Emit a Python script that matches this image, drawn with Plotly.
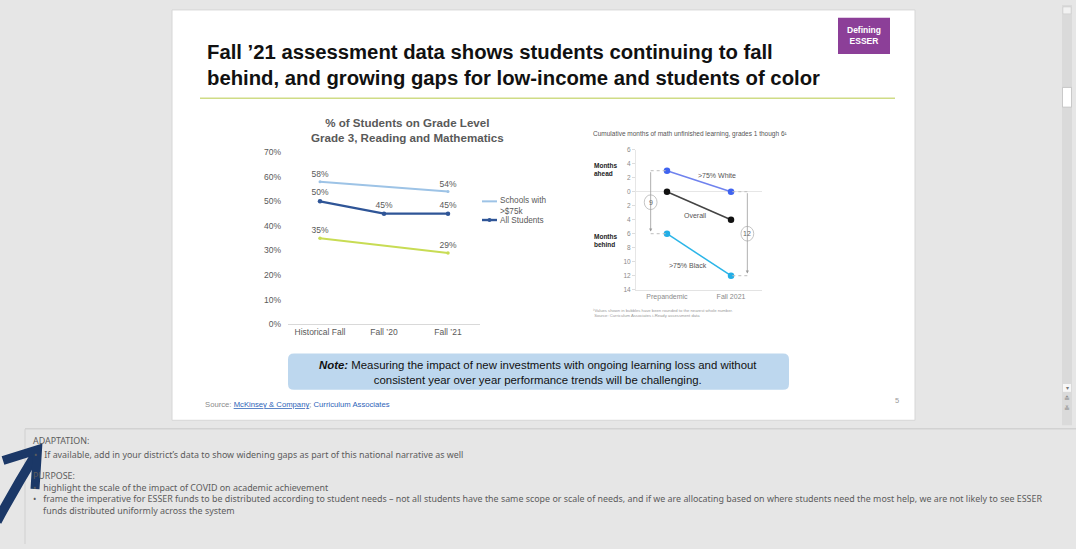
import plotly.graph_objects as go

W, H = 1076, 549


def px(x):
    return x / W


def py(y):
    return 1 - y / H


# ---------------- data ----------------
grade_categories = ["Historical Fall", "Fall ’20", "Fall ’21"]
high_income_pct = [58, None, 54]
all_students_pct = [50, 45, 45]
low_income_pct = [35, None, 29]
left_series_names = ["Schools with >$75k", "All Students", "Low-income schools"]
left_yticks = [0, 10, 20, 30, 40, 50, 60, 70]

periods = ["Prepandemic", "Fall 2021"]
white_months = [3, 0]
overall_months = [0, -4]
black_months = [-6, -12]
right_series_names = [">75% White", "Overall", ">75% Black"]
right_yticks = [6, 4, 2, 0, -2, -4, -6, -8, -10, -12, -14]

# ---------------- styles ----------------
BG = "#e6e6e6"
NARROW = "Liberation Sans, Arial, sans-serif"
SANS = "Liberation Sans, Arial, sans-serif"
NOTE_FONT = "Noto Sans, Open Sans, sans-serif"
C_LIGHT = "#9dc3e6"
C_DARK = "#2f5597"
C_GREEN = "#c8dc54"
C_WHITE = "#3f63f0"
C_OVERALL = "#111111"
C_BLACK = "#22aee6"

fig = go.Figure()


def lbl(values):
    return [f"{v}%" if v is not None else "" for v in values]


left_data = [high_income_pct, all_students_pct, low_income_pct]
left_colors = [C_LIGHT, C_DARK, C_GREEN]
left_widths = [2, 2.4, 2]
left_msize = [3, 4.5, 3.5]
for vals, name, col, w, ms in zip(left_data, left_series_names, left_colors, left_widths, left_msize):
    fig.add_trace(go.Scatter(
        x=grade_categories, y=vals, name=name, mode="lines+markers+text",
        connectgaps=True, line=dict(color=col, width=w),
        marker=dict(color=col, size=ms), text=lbl(vals),
        textposition="top center",
        textfont=dict(family=NARROW, size=8.5, color="#595959"),
        xaxis="x", yaxis="y", showlegend=False, cliponaxis=False,
    ))

right_data = [white_months, overall_months, black_months]
right_line_cols = ["#6f82ee", "#444444", "#2bb5e8"]
right_mark_cols = [C_WHITE, C_OVERALL, C_BLACK]
for vals, name, lc, mc in zip(right_data, right_series_names, right_line_cols, right_mark_cols):
    fig.add_trace(go.Scatter(
        x=[0, 1], y=vals, name=name, mode="lines+markers",
        line=dict(color=lc, width=1.5), marker=dict(color=mc, size=6.5),
        xaxis="x2", yaxis="y2", showlegend=False, cliponaxis=False,
    ))

fig.update_layout(
    width=W, height=H, margin=dict(l=0, r=0, t=0, b=0),
    paper_bgcolor=BG, plot_bgcolor="rgba(0,0,0,0)", showlegend=False,
    xaxis=dict(domain=[px(288), px(480)], type="category", range=[-0.5, 2.5],
               showline=True, linecolor="#d9d9d9", linewidth=1, ticks="",
               showgrid=False, zeroline=False, anchor="y",
               tickfont=dict(family=NARROW, size=8.5, color="#595959")),
    yaxis=dict(domain=[py(325), py(150)], range=[0, 70], tickvals=left_yticks,
               ticktext=[f"{v}%" for v in left_yticks], showgrid=False,
               zeroline=False, showline=False, anchor="x", ticklabelstandoff=6,
               tickfont=dict(family=NARROW, size=8.5, color="#595959")),
    xaxis2=dict(domain=[px(636), px(762)], range=[-0.484, 1.484], tickvals=[0, 1],
                ticktext=periods, showline=True, linecolor="#e3e3e3", ticks="",
                showgrid=False, zeroline=False, anchor="y2",
                tickfont=dict(family=SANS, size=7, color="#8a8a8a")),
    yaxis2=dict(domain=[py(290), py(147.4)], range=[-14, 6], tickvals=right_yticks,
                ticktext=[str(abs(v)) for v in right_yticks], showgrid=False,
                zeroline=True, zerolinecolor="#e6e6e6", zerolinewidth=1,
                showline=True, linecolor="#e6e6e6", ticks="outside", ticklen=3,
                tickcolor="#dddddd", anchor="x2",
                tickfont=dict(family=SANS, size=6.5, color="#8a8a8a")),
)

shapes = []
annos = []


def rect(x0, y0, x1, y1, fill, line=None, lw=0, layer="below"):
    shapes.append(dict(type="rect", xref="paper", yref="paper", x0=px(x0), x1=px(x1),
                       y0=py(y1), y1=py(y0), fillcolor=fill,
                       line=dict(color=line or fill, width=lw), layer=layer))


def text(x, y, s, size, color="#595959", family=NARROW, anchor="left", weight="normal", align=None):
    annos.append(dict(xref="paper", yref="paper", x=px(x), y=py(y), text=s, showarrow=False,
                      xanchor=anchor, yanchor="middle", align=align or anchor, borderpad=0,
                      font=dict(size=size, color=color, family=family, weight=weight)))


def pline(x0, y0, x1, y1, color, width=1, dash="solid", layer="below"):
    shapes.append(dict(type="line", xref="paper", yref="paper", x0=px(x0), y0=py(y0),
                       x1=px(x1), y1=py(y1), line=dict(color=color, width=width, dash=dash),
                       layer=layer))


# slide
rect(172, 5, 915, 423, "#ffffff", line="#d6d6d6", lw=1)
# title
text(206, 61, "Fall ’21 assessment data shows students continuing to fall<br>"
     "behind, and growing gaps for low-income and students of color", 20.3, "#111111", weight="bold")
pline(200, 95, 895, 95, "#cfdc86", 1.5)
# badge
rect(838, 13, 890, 50, "#8c3f98")
text(864, 31.5, "Defining<br>ESSER", 8.5, "#ffffff", anchor="center", weight="bold")

# left chart title
text(407, 127.5, "% of Students on Grade Level<br>Grade 3, Reading and Mathematics", 11.6, "#595959",
     anchor="center", weight="bold")
# manual legend
pline(482, 200, 497, 200, C_LIGHT, 2)
text(499, 204.5, "Schools with<br>>$75k", 8.2, "#595959")
pline(482, 219, 497, 219, C_DARK, 2.4)
shapes.append(dict(type="circle", xref="paper", yref="paper", x0=px(487.5), x1=px(491.5),
                   y0=py(221), y1=py(217), fillcolor=C_DARK, line=dict(width=0)))
text(499, 219.5, left_series_names[1], 8.2, "#595959")

# right chart texts
text(592, 131, "Cumulative months of math unfinished learning, grades 1 though 6¹", 6.5, "#555555", family=SANS)
text(593, 168, "Months<br>ahead", 6.5, "#222222", family=SANS, weight="bold")
text(593, 240, "Months<br>behind", 6.5, "#222222", family=SANS, weight="bold")
text(592, 314, "¹Values shown in bubbles have been rounded to the nearest whole number.<br>"
     " Source: Curriculum Associates i-Ready assessment data", 4.2, "#9a9a9a", family=SANS)

# series labels on right chart (data coords)
label_pos = [(0.78, 2.3), (0.44, -3.4), (0.33, -10.6)]
for (lx, ly), name in zip(label_pos, right_series_names):
    annos.append(dict(xref="x2", yref="y2", x=lx, y=ly, text=name, showarrow=False,
                      font=dict(size=7, color="#555555", family=SANS)))

# gap brackets
gaps = [(0, -0.255, white_months[0], black_months[0]), (1, 1.255, white_months[1], black_months[1])]
for idx, bx, top, bot in gaps:
    gap = top - bot
    shapes.append(dict(type="line", xref="x2", yref="y2", x0=bx, x1=idx, y0=top, y1=top,
                       line=dict(color="#bdbdbd", width=1, dash="dot")))
    shapes.append(dict(type="line", xref="x2", yref="y2", x0=bx, x1=idx, y0=bot, y1=bot,
                       line=dict(color="#bdbdbd", width=1, dash="dot")))
    annos.append(dict(xref="x2", yref="y2", x=bx, y=bot + 0.3, ax=bx, ay=top, axref="x2", ayref="y2",
                      text="", showarrow=True, arrowhead=2, arrowsize=0.8, arrowwidth=0.8,
                      arrowcolor="#9a9a9a", standoff=0, startstandoff=0))
    mid = (top + bot) / 2
    shapes.append(dict(type="circle", xref="x2", yref="y2", x0=bx - 0.1, x1=bx + 0.1,
                       y0=mid - 1.05, y1=mid + 1.05, fillcolor="#ffffff",
                       line=dict(color="#b5b5b5", width=0.8), layer="above"))
    annos.append(dict(xref="x2", yref="y2", x=bx, y=mid, text=str(gap), showarrow=False,
                      font=dict(size=7, color="#666666", family=SANS)))

# note box (rounded)
x0, x1, y0, y1, r = 288, 789, 355, 392, 6
path = (f"M {px(x0 + r)},{py(y0)} L {px(x1 - r)},{py(y0)} Q {px(x1)},{py(y0)} {px(x1)},{py(y0 + r)} "
        f"L {px(x1)},{py(y1 - r)} Q {px(x1)},{py(y1)} {px(x1 - r)},{py(y1)} "
        f"L {px(x0 + r)},{py(y1)} Q {px(x0)},{py(y1)} {px(x0)},{py(y1 - r)} "
        f"L {px(x0)},{py(y0 + r)} Q {px(x0)},{py(y0)} {px(x0 + r)},{py(y0)} Z")
shapes.append(dict(type="path", xref="paper", yref="paper", path=path, fillcolor="#bdd7ee",
                   line=dict(width=0), layer="below"))
text(538, 374, "<b><i>Note:</i></b> Measuring the impact of new investments with ongoing learning loss and without<br>"
     "consistent year over year performance trends will be challenging.", 11.4, "#111111", anchor="center")

# source and page number
text(204, 406.5, "Source: <span style='color:#2e63b8'><u>McKinsey &amp; Company</u></span>; "
     "<span style='color:#2e63b8'>Curriculum Associates</span>", 7.7, "#8a8a8a")
text(897, 403, "5", 7.5, "#9a9a9a", family=SANS, anchor="center")

# notes pane
pline(25, 431.5, 1076, 431.5, "#d2d2d2", 1.5)
pline(25, 432, 25, 549, "#d0d0d0", 1)
NC = "#5c5c5c"
NS = 8.9
SP = "&nbsp;"
text(32, 444, "ADAPTATION:", NS, NC, family=NOTE_FONT)
text(33, 458, "•" + SP * 3 + "If available, add in your district’s data to show widening gaps as part of "
     "this national narrative as well", NS, NC, family=NOTE_FONT)
text(32, 497,
     "PURPOSE:<br>"
     "•" + SP * 3 + "highlight the scale of the impact of COVID on academic achievement<br>"
     "•" + SP * 3 + "frame the imperative for ESSER funds to be distributed according to student needs – "
     "not all students have the same scope or scale of needs, and if we are allocating based on where "
     "students need the most help, we are not likely to see ESSER<br>"
     + SP * 4 + "&#8202;funds distributed uniformly across the system", NS, NC, family=NOTE_FONT)

# hand-drawn arrow
NAVY = "#1b3867"
shapes.append(dict(type="path", xref="paper", yref="paper",
                   path=f"M {px(-3)},{py(526)} Q {px(15)},{py(492)} {px(36)},{py(457)}",
                   line=dict(color=NAVY, width=9.5), layer="above"))
shapes.append(dict(type="path", xref="paper", yref="paper",
                   path=f"M {px(3)},{py(464)} L {px(37.5)},{py(453)} L {px(35)},{py(493)}",
                   line=dict(color=NAVY, width=9), layer="above"))

# scrollbar
rect(1062, 0, 1072, 428, "#dadada")
rect(1063, 2, 1071, 9, "#f2f2f2", line="#c8c8c8", lw=0.5)
rect(1062.5, 84, 1071.5, 104, "#ffffff", line="#c0c0c0", lw=0.8)
rect(1063, 386, 1071, 394, "#f7f7f7")
text(1067, 390, "▾", 6, "#777777", family=SANS, anchor="center")
text(1067, 401, "≛", 7, "#888888", family=SANS, anchor="center")
text(1067, 411, "≚", 7, "#888888", family=SANS, anchor="center")

fig.update_layout(shapes=shapes, annotations=annos)
fig.write_html("out.html")
